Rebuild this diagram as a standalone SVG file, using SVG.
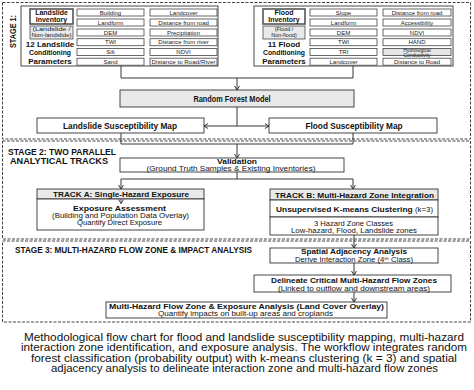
<svg xmlns="http://www.w3.org/2000/svg" width="474" height="390" viewBox="0 0 474 390">
<defs>
<marker id="ah" markerWidth="6" markerHeight="6" refX="5" refY="3" orient="auto" markerUnits="userSpaceOnUse">
<polyline points="1,0.5 5,3 1,5.5" fill="none" stroke="#222" stroke-width="0.9"/>
</marker>
<marker id="ahs" markerWidth="6" markerHeight="6" refX="1" refY="3" orient="auto" markerUnits="userSpaceOnUse">
<polyline points="5,0.5 1,3 5,5.5" fill="none" stroke="#222" stroke-width="0.9"/>
</marker>
<style>
.stage{fill:none;stroke:#444;stroke-width:1;stroke-dasharray:3,1.5}
.box{fill:#fff;stroke:#333;stroke-width:0.9}
.gbox{fill:#e9e9e9;stroke:#333;stroke-width:0.9}
.cell{fill:#fff;stroke:#444;stroke-width:0.8}
.inv{fill:#fff;stroke:#555;stroke-width:1.6}
text{font-family:"Liberation Sans",Arial,sans-serif;fill:#111;text-anchor:middle;dominant-baseline:central}
.b{font-weight:bold;font-size:8.5px}
.t{font-weight:bold;font-size:7.5px}
.s{font-size:6.5px}
.c{font-size:6px;fill:#222}
.lbl{font-weight:bold;font-size:8.5px;text-anchor:start}
.cap{font-size:11px;fill:#111;dominant-baseline:auto}
.ln{fill:none;stroke:#222;stroke-width:0.9}
</style>
</defs>
<rect width="474" height="390" fill="#fff"/>

<g id="stage1">
<rect class="stage" x="2.5" y="2.5" width="468" height="136.5"/>
<text class="b" transform="translate(13,31.5) rotate(-90)" textLength="33" lengthAdjust="spacingAndGlyphs" style="font-size:9px">STAGE 1:</text>
</g>
<g id="stage2">
<rect class="stage" x="2.5" y="141" width="468" height="98"/>
<text class="b" x="62" y="152" textLength="108" lengthAdjust="spacingAndGlyphs">STAGE 2: TWO PARALLEL</text>
<text class="b" x="59" y="161" textLength="98" lengthAdjust="spacingAndGlyphs">ANALYTICAL TRACKS</text>
</g>
<g id="stage3">
<rect class="stage" x="2.5" y="241" width="468" height="81"/>
<text class="lbl" x="15" y="250" textLength="237" lengthAdjust="spacingAndGlyphs">STAGE 3: MULTI-HAZARD FLOW ZONE &amp; IMPACT ANALYSIS</text>
</g>

<g id="landslide-inputs">
<rect class="box" x="21" y="6" width="197" height="60"/>
<rect class="inv" x="30" y="9" width="43" height="15"/>
<text class="t" x="51.5" y="12.8" style="font-size:7px">Landslide</text>
<text class="t" x="51.5" y="19.9" style="font-size:7px">Inventory</text>
<rect class="gbox" x="30" y="26" width="43" height="13" style="stroke-width:0.7"/>
<text class="c" x="51.5" y="29.2" style="font-size:5.5px" textLength="38" lengthAdjust="spacingAndGlyphs">(Landslide /</text>
<text class="c" x="51.5" y="35.2" style="font-size:5.5px" textLength="40" lengthAdjust="spacingAndGlyphs">Non-landslide)</text>
<text class="b" x="50" y="44" style="font-size:8px">12 Landslide</text>
<text class="b" x="50" y="52.5" style="font-size:8px" textLength="42" lengthAdjust="spacingAndGlyphs">Conditioning</text>
<text class="b" x="50" y="61" style="font-size:8px">Parameters</text>
<g>
<rect class="cell" x="77" y="9" width="67" height="7"/><text class="c" x="110.5" y="12.5">Building</text>
<rect class="cell" x="77" y="19" width="67" height="7"/><text class="c" x="110.5" y="22.5">Landform</text>
<rect class="cell" x="77" y="29" width="67" height="7"/><text class="c" x="110.5" y="32.5">DEM</text>
<rect class="cell" x="77" y="38.7" width="67" height="7"/><text class="c" x="110.5" y="42.2">TWI</text>
<rect class="cell" x="77" y="48.4" width="67" height="7"/><text class="c" x="110.5" y="51.9">Silt</text>
<rect class="cell" x="77" y="58.2" width="67" height="7"/><text class="c" x="110.5" y="61.7">Sand</text>
<rect class="cell" x="150" y="9" width="67" height="7"/><text class="c" x="183.5" y="12.5">Landcover</text>
<rect class="cell" x="150" y="19" width="67" height="7"/><text class="c" x="183.5" y="22.5">Distance from road</text>
<rect class="cell" x="150" y="29" width="67" height="7"/><text class="c" x="183.5" y="32.5">Precipitation</text>
<rect class="cell" x="150" y="38.7" width="67" height="7"/><text class="c" x="183.5" y="42.2">Distance from river</text>
<rect class="cell" x="150" y="48.4" width="67" height="7"/><text class="c" x="183.5" y="51.9">NDVI</text>
<rect class="cell" x="150" y="58.2" width="67" height="7"/><text class="c" x="183.5" y="61.7" textLength="64" lengthAdjust="spacingAndGlyphs">Distance to Road/River</text>
</g>
</g>

<g id="flood-inputs">
<rect class="box" x="254" y="6" width="199" height="60"/>
<rect class="inv" x="263" y="9" width="42" height="15"/>
<text class="t" x="284" y="12.8" style="font-size:7px">Flood</text>
<text class="t" x="284" y="19.9" style="font-size:7px">Inventory</text>
<rect class="gbox" x="263" y="26" width="42" height="13" style="stroke-width:0.7"/>
<text class="c" x="284" y="29.2" style="font-size:5.5px">(Flood /</text>
<text class="c" x="284" y="35.2" style="font-size:5.5px">Non-flood)</text>
<text class="b" x="284" y="44" style="font-size:8px">11 Flood</text>
<text class="b" x="284" y="52.5" style="font-size:8px" textLength="42" lengthAdjust="spacingAndGlyphs">Conditioning</text>
<text class="b" x="284" y="61" style="font-size:8px">Parameters</text>
<g>
<rect class="cell" x="310" y="9" width="67" height="7"/><text class="c" x="343.5" y="12.5">Slope</text>
<rect class="cell" x="310" y="19" width="67" height="7"/><text class="c" x="343.5" y="22.5">Landform</text>
<rect class="cell" x="310" y="29" width="67" height="7"/><text class="c" x="343.5" y="32.5">DEM</text>
<rect class="cell" x="310" y="38.7" width="67" height="7"/><text class="c" x="343.5" y="42.2">TWI</text>
<rect class="cell" x="310" y="48.4" width="67" height="7"/><text class="c" x="343.5" y="51.9">TRI</text>
<rect class="cell" x="310" y="58.2" width="67" height="7"/><text class="c" x="343.5" y="61.7">Landcover</text>
<rect class="cell" x="383" y="9" width="68" height="7"/><text class="c" x="417" y="12.5">Distance from road</text>
<rect class="cell" x="383" y="19" width="68" height="7"/><text class="c" x="417" y="22.5">Accessibility</text>
<rect class="cell" x="383" y="29" width="68" height="7"/><text class="c" x="417" y="32.5">NDVI</text>
<rect class="cell" x="383" y="38.7" width="68" height="7"/><text class="c" x="417" y="42.2">HAND</text>
<rect class="cell" x="383" y="48.4" width="68" height="7" style="fill:#e6e6e6"/><text class="c" x="417" y="50.3" style="font-size:5px">Hydrological</text><text class="c" x="417" y="55.4" style="font-size:5px">Conductivity</text>
<rect class="cell" x="383" y="58.2" width="68" height="7"/><text class="c" x="417" y="61.7">Distance to Road</text>
</g>
</g>

<g id="random-forest">
<rect class="gbox" x="120" y="90" width="234" height="17"/>
<text class="b" x="232" y="98.5" style="font-size:9px" textLength="77" lengthAdjust="spacingAndGlyphs">Random Forest Model</text>
</g>
<g id="landslide-map">
<rect class="box" x="37" y="118" width="167" height="15"/>
<text class="b" x="120" y="126" textLength="114" lengthAdjust="spacingAndGlyphs">Landslide Susceptibility Map</text>
</g>
<g id="flood-map">
<rect class="box" x="269" y="118" width="168" height="15"/>
<text class="b" x="354" y="126" textLength="97" lengthAdjust="spacingAndGlyphs">Flood Susceptibility Map</text>
</g>
<g id="validation">
<rect class="box" x="120" y="158" width="224" height="14"/>
<text class="t" x="237" y="161.6" style="font-size:7px" textLength="40" lengthAdjust="spacingAndGlyphs">Validation</text>
<text class="s" x="231" y="168.4" textLength="169" lengthAdjust="spacingAndGlyphs">(Ground Truth Samples &amp; Existing Inventories)</text>
</g>
<g id="track-a">
<rect class="gbox" x="37" y="189" width="167" height="10"/>
<text class="b" x="121" y="194.3" style="font-size:8px" textLength="136" lengthAdjust="spacingAndGlyphs">TRACK A: Single-Hazard Exposure</text>
<rect class="box" x="37" y="199" width="167" height="31"/>
<line class="ln" x1="121" y1="199" x2="121" y2="203.5" marker-end="url(#ah)" style="stroke-width:0.7"/>
<text class="t" x="119.5" y="208.5" textLength="93" lengthAdjust="spacingAndGlyphs">Exposure Assessment</text>
<text class="s" x="120.5" y="215.5" textLength="137" lengthAdjust="spacingAndGlyphs">(Building and Population Data Overlay)</text>
<text class="s" x="119.5" y="222" textLength="85" lengthAdjust="spacingAndGlyphs">Quantify Direct Exposure</text>
</g>
<g id="track-b">
<rect class="gbox" x="270" y="189" width="168" height="11"/>
<text class="b" x="354.5" y="195" style="font-size:8px" textLength="159" lengthAdjust="spacingAndGlyphs">TRACK B: Multi-Hazard Zone Integration</text>
<rect class="box" x="270" y="200" width="168" height="17"/>
<text x="354.5" y="208.5" textLength="157" lengthAdjust="spacingAndGlyphs"><tspan class="b" style="font-size:8px">Unsupervised K-means Clustering </tspan><tspan style="font-size:7.5px">(k=3)</tspan></text>
<rect class="box" x="270" y="217" width="168" height="18"/>
<text class="s" x="353.5" y="223" style="font-size:7px" textLength="79" lengthAdjust="spacingAndGlyphs">3 Hazard Zone Classes</text>
<text class="s" x="354" y="230" style="font-size:7px" textLength="126" lengthAdjust="spacingAndGlyphs">Low-hazard, Flood, Landslide zones</text>
</g>
<g id="spatial-adjacency">
<rect class="box" x="270" y="248" width="168" height="15"/>
<text class="t" x="354" y="251.7" textLength="106" lengthAdjust="spacingAndGlyphs">Spatial Adjacency Analysis</text>
<text class="s" x="354" y="259.1" textLength="118" lengthAdjust="spacingAndGlyphs">Derive Interaction Zone (4ᵗʰ Class)</text>
</g>
<g id="delineate">
<rect class="box" x="254" y="275" width="197" height="17"/>
<text class="t" x="354" y="280.8" textLength="166" lengthAdjust="spacingAndGlyphs">Delineate Critical Multi-Hazard Flow Zones</text>
<text class="s" x="354" y="288.2" textLength="152" lengthAdjust="spacingAndGlyphs">(Linked to outflow and downstream areas)</text>
</g>
<g id="exposure-analysis">
<rect class="box" x="106" y="302" width="281" height="16"/>
<text class="t" x="246.5" y="306.4" textLength="275" lengthAdjust="spacingAndGlyphs">Multi-Hazard Flow Zone &amp; Exposure Analysis (Land Cover Overlay)</text>
<text class="s" x="245.5" y="313.8" textLength="175" lengthAdjust="spacingAndGlyphs">Quantify impacts on built-up areas and croplands</text>
</g>

<g id="connectors">
<polyline class="ln" points="121,66 121,78 353,78 353,66"/>
<line class="ln" x1="237" y1="78" x2="237" y2="90" marker-end="url(#ah)"/>
<line class="ln" x1="237" y1="107" x2="237" y2="126"/>
<line class="ln" x1="204" y1="126" x2="269" y2="126" marker-start="url(#ahs)" marker-end="url(#ah)"/>
<polyline class="ln" points="121,133 121,144 353,144 353,133"/>
<line class="ln" x1="237" y1="144" x2="237" y2="158" marker-end="url(#ah)"/>
<line class="ln" x1="237" y1="172" x2="237" y2="179"/>
<line class="ln" x1="121" y1="179" x2="353" y2="179"/>
<line class="ln" x1="121" y1="179" x2="121" y2="189" marker-end="url(#ah)"/>
<line class="ln" x1="353" y1="179" x2="353" y2="189" marker-end="url(#ah)"/>
<line class="ln" x1="354" y1="235" x2="354" y2="248" marker-end="url(#ah)"/>
<line class="ln" x1="354" y1="263" x2="354" y2="275" marker-end="url(#ah)"/>
<line class="ln" x1="354" y1="292" x2="354" y2="302" marker-end="url(#ah)"/>
</g>

<g id="caption">
<text class="cap" x="244" y="340.5" textLength="440" lengthAdjust="spacingAndGlyphs">Methodological flow chart for flood and landslide susceptibility mapping, multi-hazard</text>
<text class="cap" x="244" y="351" textLength="446" lengthAdjust="spacingAndGlyphs">interaction zone identification, and exposure analysis. The workflow integrates random</text>
<text class="cap" x="244" y="361.5" textLength="426" lengthAdjust="spacingAndGlyphs">forest classification (probability output) with k-means clustering (k = 3) and spatial</text>
<text class="cap" x="244.5" y="372" textLength="387" lengthAdjust="spacingAndGlyphs">adjacency analysis to delineate interaction zone and multi-hazard flow zones</text>
</g>
</svg>
